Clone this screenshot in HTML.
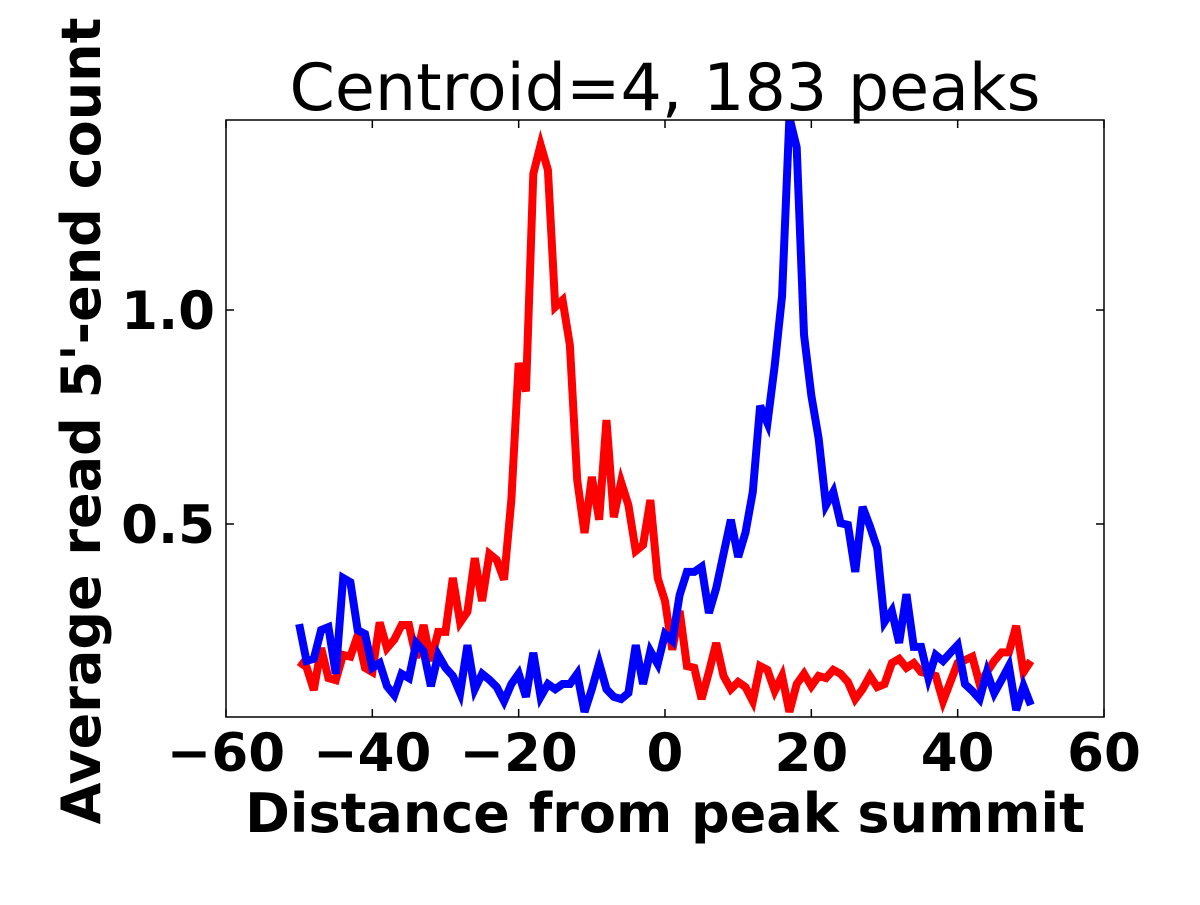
<!DOCTYPE html>
<html><head><meta charset="utf-8"><style>
body{margin:0;background:#fff;}
svg text{font-family:"DejaVu Sans","Liberation Sans",sans-serif;}
</style></head><body>
<svg id="chart" width="1200" height="900" xmlns="http://www.w3.org/2000/svg">
<rect width="1200" height="900" fill="#fff"/>
<g id="plot"></g>
<text x="665" y="110" font-size="65" text-anchor="middle">Centroid=4, 183 peaks</text>
<text x="665" y="832" font-size="54" font-weight="bold" text-anchor="middle">Distance from peak summit</text>
<text transform="translate(100,421) rotate(-90)" font-size="54" font-weight="bold" text-anchor="middle">Average read 5'-end count</text>
</svg>
<script>
const xTicks=[-60,-40,-20,0,20,40,60];
const xTickLabels=["\u221260","\u221240","\u221220","0","20","40","60"];
const yTicks=[0.5,1.0];
const yTickLabels=["0.5","1.0"];
const positions=[];for(let i=-50;i<=50;i++)positions.push(i);
const redValues=[0.178,0.166,0.112,0.21,0.14,0.135,0.194,0.19,0.24,0.164,0.154,0.27,0.21,0.23,0.264,0.264,0.187,0.264,0.18,0.248,0.248,0.374,0.27,0.295,0.42,0.32,0.43,0.416,0.37,0.556,0.876,0.81,1.318,1.386,1.327,1.007,1.023,0.918,0.603,0.479,0.61,0.51,0.743,0.516,0.598,0.544,0.437,0.451,0.556,0.374,0.32,0.206,0.297,0.168,0.164,0.091,0.154,0.222,0.145,0.114,0.131,0.119,0.086,0.168,0.159,0.11,0.145,0.061,0.126,0.15,0.121,0.145,0.14,0.159,0.15,0.131,0.091,0.114,0.145,0.119,0.126,0.175,0.185,0.164,0.175,0.154,0.15,0.145,0.086,0.131,0.175,0.182,0.19,0.126,0.154,0.18,0.2,0.2,0.262,0.154,0.18];
const blueValues=[0.266,0.18,0.185,0.252,0.259,0.15,0.374,0.364,0.252,0.243,0.164,0.175,0.121,0.1,0.15,0.14,0.222,0.203,0.121,0.194,0.164,0.145,0.105,0.217,0.114,0.15,0.136,0.119,0.086,0.126,0.15,0.096,0.199,0.096,0.126,0.114,0.126,0.126,0.15,0.061,0.114,0.175,0.114,0.096,0.091,0.105,0.217,0.126,0.203,0.173,0.243,0.227,0.334,0.388,0.388,0.40,0.292,0.35,0.43,0.51,0.423,0.48,0.575,0.776,0.736,0.871,1.033,1.45,1.38,0.942,0.8,0.70,0.544,0.575,0.502,0.498,0.388,0.54,0.495,0.444,0.271,0.297,0.222,0.336,0.213,0.213,0.14,0.194,0.18,0.199,0.217,0.126,0.11,0.091,0.154,0.105,0.136,0.168,0.065,0.121,0.077];
const L=226,R=1104,T=120,B=717,XMIN=-60,XMAX=60,YMIN=0.049,YMAX=1.444;
const sx=v=>L+(v-XMIN)/(XMAX-XMIN)*(R-L);
const sy=v=>B-(v-YMIN)/(YMAX-YMIN)*(B-T);
const NS="http://www.w3.org/2000/svg";
const g=document.getElementById('plot');
function mk(t,a){const e=document.createElementNS(NS,t);for(const k in a)e.setAttribute(k,a[k]);return e;}
const cp=mk('clipPath',{id:'clip'});cp.appendChild(mk('rect',{x:L,y:T,width:R-L,height:B-T}));g.appendChild(cp);
function series(vals,color,name){
  const p=mk('polyline',{points:vals.map((v,i)=>sx(positions[i])+','+sy(v)).join(' '),fill:'none',stroke:color,'stroke-width':8,'stroke-linejoin':'miter','clip-path':'url(#clip)'});
  
  
  g.appendChild(p);
}
series(redValues,'#ff0000','red-series-line');
series(blueValues,'#0000ff','blue-series-line');
const frame=mk('rect',{x:L,y:T,width:R-L,height:B-T,fill:'none',stroke:'#000','stroke-width':1.5});


g.appendChild(frame);
xTicks.forEach((t,i)=>{
  const x=sx(t);
  g.appendChild(mk('line',{x1:x,x2:x,y1:B,y2:B-8,stroke:'#000','stroke-width':1.5}));
  g.appendChild(mk('line',{x1:x,x2:x,y1:T,y2:T+8,stroke:'#000','stroke-width':1.5}));
  const tx=mk('text',{x:x,y:771,'font-size':53,'font-weight':'bold','text-anchor':'middle'});
  tx.textContent=xTickLabels[i];
  
  
  g.appendChild(tx);
});
yTicks.forEach((t,i)=>{
  const y=sy(t);
  g.appendChild(mk('line',{x1:L,x2:L+8,y1:y,y2:y,stroke:'#000','stroke-width':1.5}));
  g.appendChild(mk('line',{x1:R,x2:R-8,y1:y,y2:y,stroke:'#000','stroke-width':1.5}));
  const tx=mk('text',{x:215,y:y+19,'font-size':53,'font-weight':'bold','text-anchor':'end'});
  tx.textContent=yTickLabels[i];
  
  
  g.appendChild(tx);
});
</script>
</body></html>
